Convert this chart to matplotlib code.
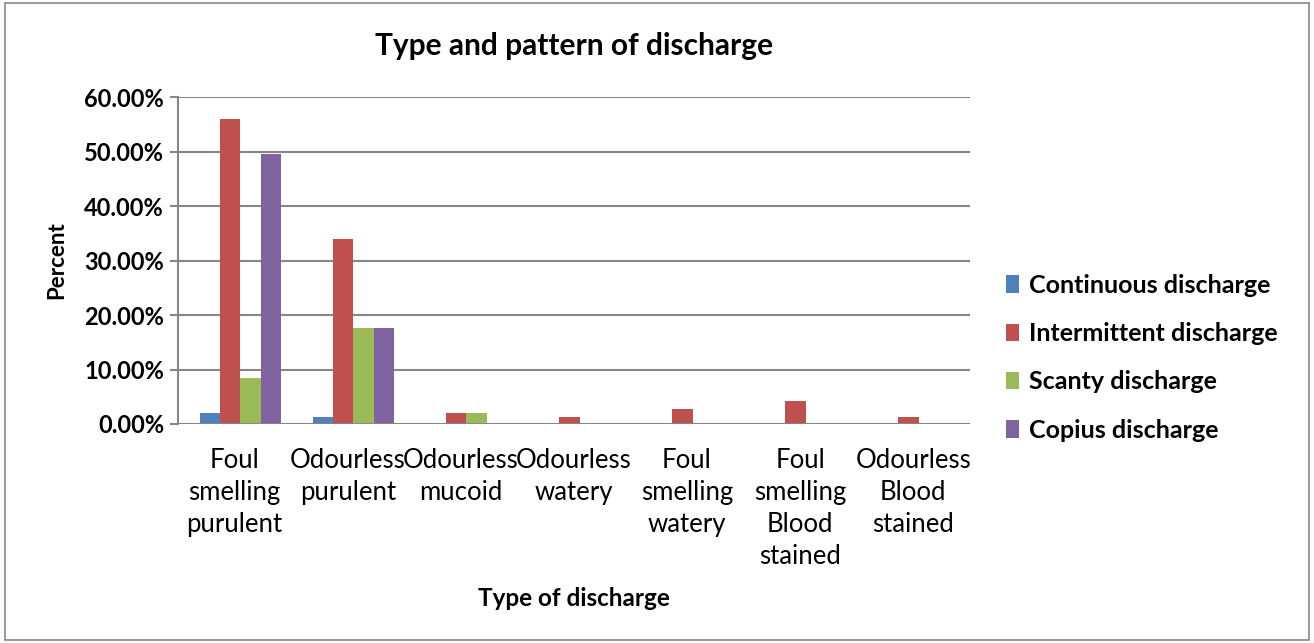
import matplotlib
matplotlib.use("Agg")
import matplotlib.pyplot as plt
import numpy as np

# Data
categories = [
    "Foul\nsmelling\npurulent",
    "Odourless\npurulent",
    "Odourless\nmucoid",
    "Odourless\nwatery",
    "Foul\nsmelling\nwatery",
    "Foul\nsmelling\nBlood\nstained",
    "Odourless\nBlood\nstained",
]
series_names = [
    "Continuous discharge",
    "Intermittent discharge",
    "Scanty discharge",
    "Copius discharge",
]
continuous = [2.0, 1.3, 0, 0, 0, 0, 0]
intermittent = [56.0, 34.0, 2.0, 1.3, 2.7, 4.2, 1.3]
scanty = [8.4, 17.6, 2.0, 0, 0, 0, 0]
copius = [49.6, 17.6, 0, 0, 0, 0, 0]
colors = ["#4F81BD", "#C0504D", "#9BBB59", "#8064A2"]

plt.rcParams["font.family"] = ["Lato", "DejaVu Sans"]

fig = plt.figure(figsize=(13.14, 6.43), dpi=100)
ax = fig.add_axes([0.1355, 0.3406, 0.6025, 0.5084])

x = np.arange(len(categories))
width = 0.18
values = [continuous, intermittent, scanty, copius]
for i, (vals, name, col) in enumerate(zip(values, series_names, colors)):
    ax.bar(x + (i - 1.5) * width + 0.05, vals, width, color=col, label=name,
           zorder=3)

ax.set_xlim(-0.5, len(categories) - 0.5)
ax.set_ylim(0, 60)
ax.set_yticks(np.arange(0, 61, 10))
ax.set_yticklabels([f"{v:.2f}%" for v in np.arange(0, 61, 10)],
                   fontsize=17, fontweight="bold")
ax.set_xticks(x)
ax.set_xticklabels(categories, fontsize=18.5, linespacing=1.36, va="top")
ax.tick_params(axis="x", length=0, pad=17)
ax.tick_params(axis="y", length=6, width=1.5, color="#878787", pad=4)

ax.grid(axis="y", color="#878787", linewidth=1.5, zorder=0)
for s in ["top", "right", "bottom"]:
    ax.spines[s].set_visible(False)
ax.spines["left"].set_color("#878787")
ax.spines["left"].set_linewidth(1.5)
ax.axhline(0, color="#878787", linewidth=2, zorder=4)

ax.set_title("Type and pattern of discharge", fontsize=21.5, fontweight="bold",
             pad=30)
ax.set_xlabel("Type of discharge", fontsize=17.5, fontweight="bold",
              labelpad=13)
ax.set_ylabel("Percent", fontsize=16, fontweight="bold", labelpad=12)

leg = ax.legend(loc="center left", bbox_to_anchor=(1.017, 0.203),
                frameon=False, prop={"weight": "bold", "size": 18},
                handlelength=0.55, handleheight=0.7, handletextpad=0.4,
                labelspacing=1.01)

# outer chart border
fig.patches.append(plt.Rectangle((0.004, 0.005), 0.992, 0.99,
                                 transform=fig.transFigure, fill=False,
                                 edgecolor="#878787", linewidth=1.2))

fig.savefig("out.png", dpi=100)
